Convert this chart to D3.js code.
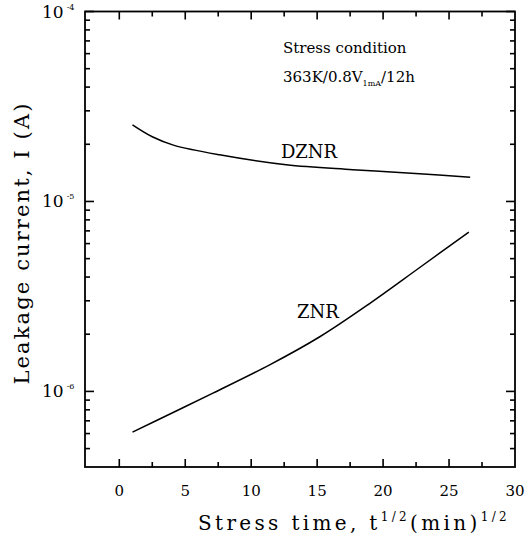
<!DOCTYPE html>
<html><head><meta charset="utf-8">
<script src="https://cdn.jsdelivr.net/npm/d3@7"></script>
<style>
html,body{margin:0;padding:0;background:#fff;}
svg text{font-family:"DejaVu Serif","Liberation Serif",serif;fill:#000;}
</style></head>
<body><svg id="c" width="529" height="541"></svg>
<script>
// ---- data ----
const timeZNR  = [1.0, 4.0, 7.1, 11.4, 15.2, 19.0, 22.7, 26.5];
const leakZNR  = [6.1e-7, 7.7e-7, 9.8e-7, 1.38e-6, 1.94e-6, 2.91e-6, 4.45e-6, 6.9e-6];
const timeDZNR = [1.0, 2.5, 4.1, 7.6, 12.65, 17.7, 22.75, 26.6];
const leakDZNR = [2.53e-5, 2.19e-5, 1.98e-5, 1.76e-5, 1.56e-5, 1.47e-5, 1.40e-5, 1.34e-5];
const xMajorTicks = [0, 5, 10, 15, 20, 25, 30];
const xMinorTicks = [2.5, 7.5, 12.5, 17.5, 22.5, 27.5];
const yMajorTicks = [1e-4, 1e-5, 1e-6];
const yMajorExp = ["-4", "-5", "-6"];
const yMinorTicks = [9e-5,8e-5,7e-5,6e-5,5e-5,4e-5,3e-5,2e-5,
                     9e-6,8e-6,7e-6,6e-6,5e-6,4e-6,3e-6,2e-6,
                     9e-7,8e-7,7e-7,6e-7,5e-7];
const xDomain = [-2.6, 30];
const yDomain = [4e-7, 1e-4];

// ---- layout ----
const L = 85, R = 515, T = 11.5, B = 467;
const svg = d3.select("#c");
const x = d3.scaleLinear().domain(xDomain).range([L, R]);
const y = d3.scaleLog().domain(yDomain).range([B, T]);

// frame
svg.append("rect").attr("x",L).attr("y",T).attr("width",R-L).attr("height",B-T)
  .attr("fill","none").attr("stroke","#000").attr("stroke-width",1.8);

// ticks (inward, on all four sides)
const tw = 1.6;
const tg = svg.append("g").attr("fill","#000");
function xTickRects(vals, len){
  vals.forEach(d=>{
    const px = x(d) - tw/2;
    tg.append("rect").attr("x",px).attr("y",B-len).attr("width",tw).attr("height",len);
    tg.append("rect").attr("x",px).attr("y",T).attr("width",tw).attr("height",len);
  });
}
function yTickRects(vals, len){
  vals.forEach(d=>{
    const py = y(d) - tw/2;
    tg.append("rect").attr("x",L).attr("y",py).attr("width",len).attr("height",tw);
    tg.append("rect").attr("x",R-len).attr("y",py).attr("width",len).attr("height",tw);
  });
}
xTickRects(xMajorTicks.filter(d=>d<30), 8);
xTickRects(xMinorTicks, 5);
yTickRects(yMajorTicks, 9);
yTickRects(yMinorTicks, 5);

// x tick labels
svg.selectAll(".xl").data(xMajorTicks).enter().append("text")
  .attr("x",d=>x(d)).attr("y",496).attr("text-anchor","middle")
  .attr("font-size",15).text(d=>d);

// y tick labels
yMajorTicks.forEach((v,i)=>{
  const t = svg.append("text").attr("x",42).attr("y",y(v)+6).attr("font-size",17);
  t.append("tspan").text("10");
  t.append("tspan").attr("dy",-8).attr("font-size",8).attr("dx",3).text(yMajorExp[i]);
});

function fitSpacing(sel, w){
  const n = sel.text().length;
  const cur = sel.node().getComputedTextLength();
  sel.attr("letter-spacing", Math.max(0,(w-cur)/n));
}

// axis titles
const xt = svg.append("text").attr("x",354).attr("y",530).attr("text-anchor","middle").attr("font-size",20);
xt.append("tspan").text("Stress time, t");
xt.append("tspan").attr("dy",-9).attr("font-size",12).text("1/2");
xt.append("tspan").attr("dy",9).text("(min)");
xt.append("tspan").attr("dy",-9).attr("font-size",12).text("1/2");
fitSpacing(xt, 312);

const yt = svg.append("text").attr("transform","translate(29,243) rotate(-90)")
  .attr("text-anchor","middle").attr("font-size",21).text("Leakage current, I (A)");
fitSpacing(yt, 283);

// curves
const line = d3.line().x(d=>x(d[0])).y(d=>y(d[1])).curve(d3.curveCatmullRom.alpha(0.5));
svg.append("path").datum(timeZNR.map((t,i)=>[t,leakZNR[i]]))
  .attr("d",line).attr("fill","none").attr("stroke","#000").attr("stroke-width",1.5);
svg.append("path").datum(timeDZNR.map((t,i)=>[t,leakDZNR[i]]))
  .attr("d",line).attr("fill","none").attr("stroke","#000").attr("stroke-width",1.5);

// curve labels
svg.append("text").attr("x",309).attr("y",158).attr("text-anchor","middle").attr("font-size",18).text("DZNR");
svg.append("text").attr("x",318).attr("y",318).attr("text-anchor","middle").attr("font-size",18).text("ZNR");

// annotation
svg.append("text").attr("x",283).attr("y",53).attr("font-size",15).text("Stress condition");
const an = svg.append("text").attr("x",283).attr("y",82).attr("font-size",15);
an.append("tspan").text("363K/0.8V");
an.append("tspan").attr("dy",4).attr("font-size",8).text("1mA");
an.append("tspan").attr("dy",-4).text("/12h");
</script></body></html>
